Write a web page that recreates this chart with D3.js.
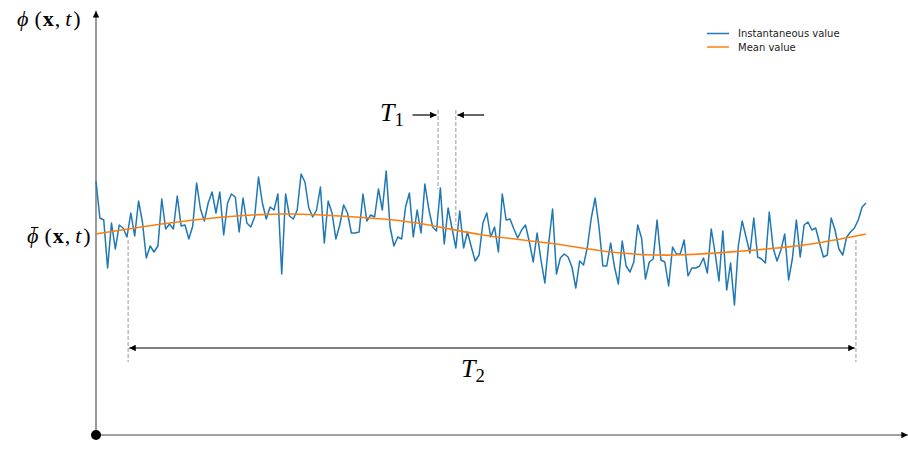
<!DOCTYPE html>
<html>
<head>
<meta charset="utf-8">
<script src="https://cdn.jsdelivr.net/npm/d3@7"></script>
<style>
  body { margin: 0; background: #fff; }
  .math { font-family: "Liberation Serif", "DejaVu Serif", serif; fill: #000; }
  .legend text { font-family: "DejaVu Sans", sans-serif; font-size: 10px; fill: #222; }
</style>
</head>
<body>
<script>
// instantaneous value, one reading per time step
var phi = [
  12.7, 10.85, 10.75, 8.35, 10.6, 9.3, 10.5, 10.35, 9.9, 11.1,
  9.95, 11.7, 10.65, 8.85, 9.45, 9.15, 9.45, 11.8, 10.3, 10.55,
  10.3, 11.95, 10.45, 10.5, 9.8, 10.45, 12.6, 11.3, 10.7, 11.6,
  12.15, 11.1, 12.15, 10.0,
  11.6, 12.05, 11.9, 10.15, 11.85, 10.6, 10.4, 10.9, 12.9, 11.6,
  10.8, 11.4, 11.25, 12.05, 8.05, 12.05, 10.95, 10.8, 11.25, 13.05,
  12.65, 11.35, 10.9, 11.25, 12.4, 9.6, 11.7, 11.1, 9.8, 10.5,
  11.5, 11.1, 10.1, 10.1,
  10.15, 12.05, 10.7, 11.0, 10.9, 12.3, 11.25, 13.2, 10.4, 9.45,
  9.9, 9.8, 11.4, 12.1, 9.9, 11.25, 10.1, 12.55, 11.3, 10.4,
  10.2, 12.35, 9.55, 11.35, 10.35, 9.35, 11.2, 9.35, 10.15, 9.4,
  8.7, 9.0,
  10.6, 11.1, 9.9, 10.4, 9.15, 12.05, 10.75, 10.8, 10.3, 9.85,
  10.25, 10.5, 9.65, 8.65, 10.1, 8.75, 7.6, 9.6, 11.3, 8.05,
  8.85, 9.05, 8.9, 8.4, 7.35, 8.7, 8.5, 9.4, 10.85, 11.85,
  10.4, 8.45, 8.45, 9.6, 8.4,
  7.55, 9.7, 8.45, 8.15, 8.65, 10.5, 9.85, 7.8, 8.65, 8.8,
  10.75, 8.75, 8.65, 7.45, 9.4, 9.05, 9.05, 9.75, 7.95, 8.35,
  8.35, 8.45, 8.85, 8.1, 10.3, 9.1, 7.7, 10.2, 7.25, 8.6,
  6.5, 9.45, 10.7,
  9.9, 9.1, 10.85, 8.9, 8.8, 8.6, 11.15, 9.35, 8.7, 9.25,
  10.05, 7.75, 8.85, 10.75, 8.9, 10.5, 10.65, 10.25, 10.35, 9.6,
  8.9, 9.0, 10.85, 10.25, 9.3, 9.0, 9.9, 10.15, 10.35, 10.75,
  11.4, 11.6
];

// mean value, sampled at a few time steps
var meanT = [0, 17, 33, 50, 67, 83, 100, 117, 133, 150, 167, 183, 199];
var meanV = [10.05, 10.55, 10.9, 11.05, 10.9, 10.6, 10.0, 9.6, 9.15, 9.0, 9.2, 9.5, 10.05];

// averaging windows (time steps)
var T1 = [88.4, 93.0];
var T2 = [8.3, 196.4];

var legendLabels = ["Instantaneous value", "Mean value"];
var colors = ["#1f77b4", "#ff7f0e"];

var width = 908,
    height = 462;

var svg = d3.select("body")
    .append("svg")
    .attr("width", width)
    .attr("height", height);

var x = d3.scaleLinear().domain([0, phi.length - 1]).range([96, 866]);
var y = d3.scaleLinear().domain([0, 21]).range([435, 15]);

var defs = svg.append("defs");
defs.append("marker")
    .attr("id", "head")
    .attr("viewBox", "0 0 10 10")
    .attr("refX", 10)
    .attr("refY", 5)
    .attr("markerUnits", "userSpaceOnUse")
    .attr("markerWidth", 9)
    .attr("markerHeight", 6.5)
    .attr("orient", "auto-start-reverse")
    .append("path")
    .attr("d", "M0,0L10,5L0,10Z")
    .attr("fill", "#000");

// axes: plain arrows from the origin
svg.append("line")
    .attr("x1", x(0)).attr("y1", y(0))
    .attr("x2", x(0)).attr("y2", y(21.2))
    .attr("stroke", "#808080")
    .attr("stroke-width", 1.6)
    .attr("marker-end", "url(#head)");
svg.append("line")
    .attr("x1", x(0)).attr("y1", y(0))
    .attr("x2", x(209.8)).attr("y2", y(0))
    .attr("stroke", "#808080")
    .attr("stroke-width", 1.6)
    .attr("marker-end", "url(#head)");
svg.append("circle")
    .attr("cx", x(0)).attr("cy", y(0))
    .attr("r", 5)
    .attr("fill", "#000");

// dashed guides
function dashed(t, v0, v1){
    svg.append("line")
        .attr("x1", x(t)).attr("x2", x(t))
        .attr("y1", y(v0)).attr("y2", y(v1))
        .attr("stroke", "#999")
        .attr("stroke-width", 1)
        .attr("stroke-dasharray", "4,2");
}
dashed(T1[0], 16.25, 12.3);
dashed(T1[1], 16.25, 10.5);
dashed(T2[0], 9.75, 3.65);
dashed(T2[1], 9.75, 3.65);

// series
var line = d3.line()
    .x(function(d, i){ return x(i); })
    .y(function(d){ return y(d); });

svg.append("path")
    .datum(phi)
    .attr("d", line)
    .attr("fill", "none")
    .attr("stroke", colors[0])
    .attr("stroke-width", 1.5)
    .attr("stroke-linejoin", "round");

var meanLine = d3.line()
    .curve(d3.curveNatural)
    .x(function(d, i){ return x(meanT[i]); })
    .y(function(d){ return y(d); });

svg.append("path")
    .datum(meanV)
    .attr("d", meanLine)
    .attr("fill", "none")
    .attr("stroke", colors[1])
    .attr("stroke-width", 1.6);

// arrows
function arrow(t0, t1, v, both){
    svg.append("line")
        .attr("x1", x(t0)).attr("x2", x(t1))
        .attr("y1", y(v)).attr("y2", y(v))
        .attr("stroke", "#000")
        .attr("stroke-width", 1.2)
        .attr("marker-end", "url(#head)")
        .attr("marker-start", both ? "url(#head)" : null);
}
arrow(T2[0] + 0.3, T2[1] - 0.3, 4.35, true);
arrow(81.8, 88.0, 16.0, false);
arrow(100.3, 93.4, 16.0, false);

// math labels
function mathLabel(px, py, parts, size){
    var t = svg.append("text")
        .attr("class", "math")
        .attr("x", px).attr("y", py)
        .style("font-size", size + "px");
    parts.forEach(function(p){
        var s = t.append("tspan").text(p.s);
        if (p.it) s.style("font-style", "italic");
        if (p.b) s.style("font-weight", "bold");
        if (p.sub) s.attr("dy", p.sub).style("font-size", (size * 0.72) + "px");
        if (p.dx) s.attr("dx", p.dx);
    });
    return t;
}

var fieldParts = [
    {s: "\u03d5", it: true}, {s: "(", dx: 6}, {s: "x", b: true, dx: 1}, {s: ",", dx: 1},
    {s: "t", it: true, dx: 5}, {s: ")", dx: 2}
];
mathLabel(17, 26, fieldParts, 22);
mathLabel(27, 243, fieldParts, 22);
// bar over the mean symbol
svg.append("line")
    .attr("x1", 31).attr("x2", 38.5)
    .attr("y1", 227.5).attr("y2", 227.5)
    .attr("stroke", "#000")
    .attr("stroke-width", 1.1);

mathLabel(380, 121, [{s: "T", it: true}, {s: "1", sub: 5}], 26);
mathLabel(461, 377, [{s: "T", it: true}, {s: "2", sub: 5}], 26);

// legend
var legend = svg.append("g").attr("class", "legend");
legendLabels.forEach(function(lab, i){
    var ly = 33.5 + i * 13.5;
    legend.append("line")
        .attr("x1", 707).attr("x2", 729)
        .attr("y1", ly).attr("y2", ly)
        .attr("stroke", colors[i])
        .attr("stroke-width", 1.5);
    legend.append("text")
        .attr("x", 738).attr("y", ly + 3.5)
        .text(lab);
});
</script>
</body>
</html>
